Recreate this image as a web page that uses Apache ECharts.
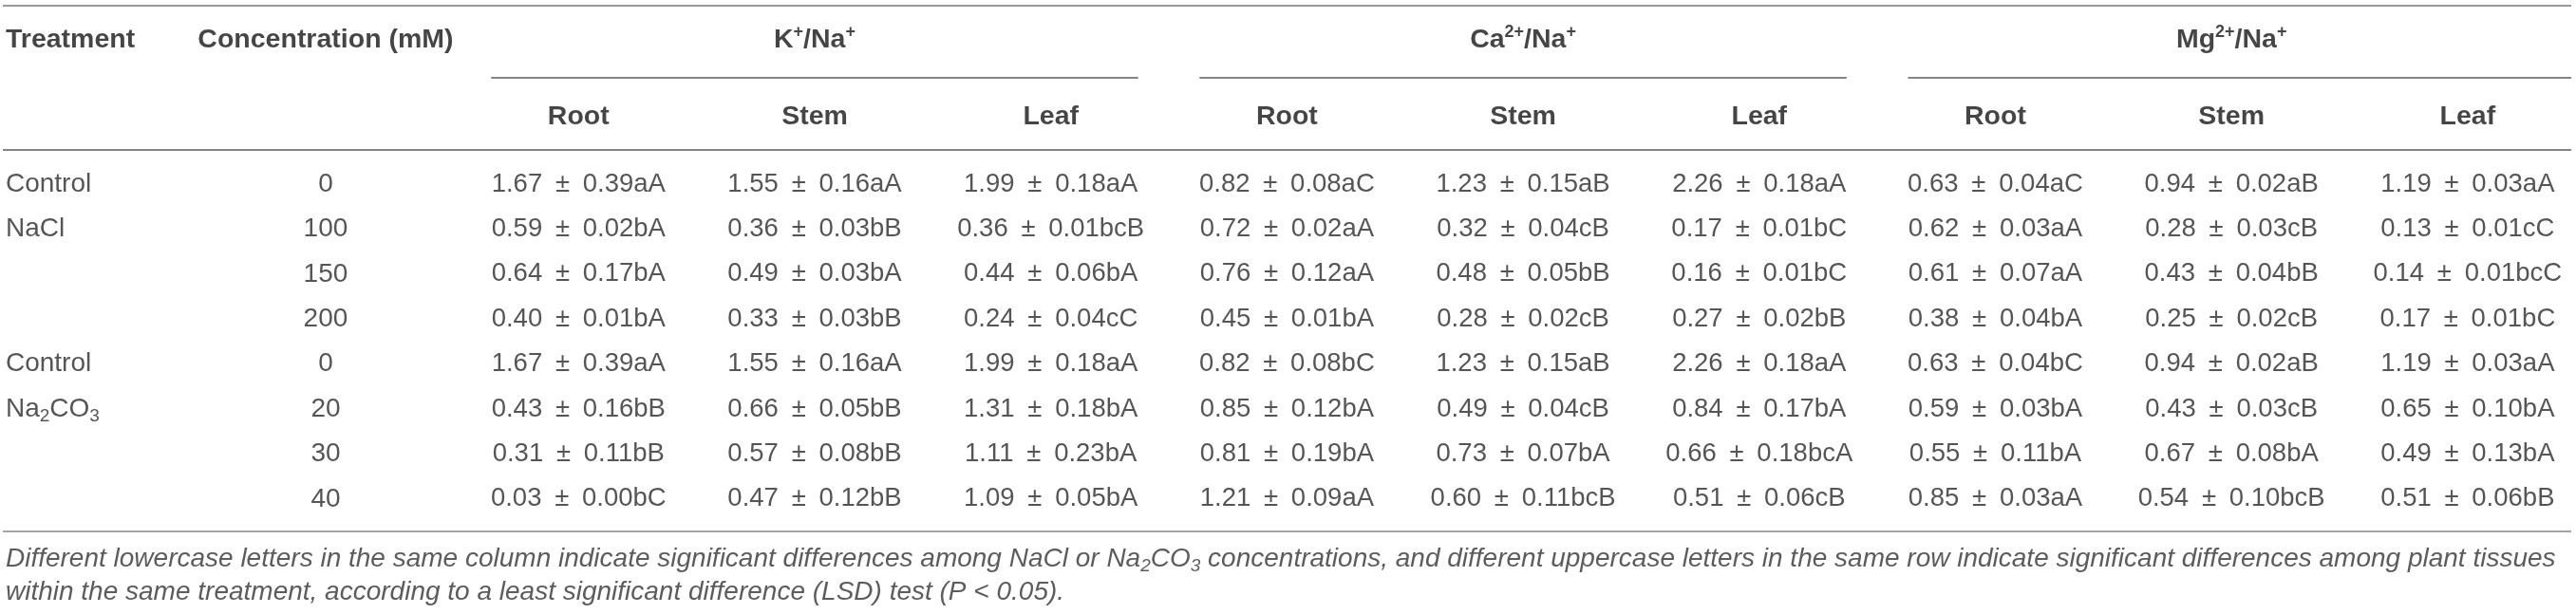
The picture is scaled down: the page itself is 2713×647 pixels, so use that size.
<!DOCTYPE html>
<html>
<head>
<meta charset="utf-8">
<title>Ion ratios table</title>
<style>
  html, body { margin: 0; padding: 0; background: #fff; }
  #chart { width: 2713px; height: 647px; }
</style>
</head>
<body>
<div id="chart"></div>
<script src="https://cdn.jsdelivr.net/npm/echarts@6/dist/echarts.min.js"></script>
<script>
// ---- table content ----
const firstHeaders = ['Treatment', 'Concentration (mM)'];
const ratioHeaders = ['K{sup|+}/Na{sup|+}', 'Ca{sup|2+}/Na{sup|+}', 'Mg{sup|2+}/Na{sup|+}'];
const tissues = ['Root', 'Stem', 'Leaf'];
const treatments = ['Control', 'NaCl', '', '', 'Control', 'Na{sub|2}CO{sub|3}', '', ''];
const concentrations = ['0', '100', '150', '200', '0', '20', '30', '40'];

// mean ± SE with significance letters, one array per column
const kRoot = ['1.67 ± 0.39aA', '0.59 ± 0.02bA', '0.64 ± 0.17bA', '0.40 ± 0.01bA', '1.67 ± 0.39aA', '0.43 ± 0.16bB', '0.31 ± 0.11bB', '0.03 ± 0.00bC'];
const kStem = ['1.55 ± 0.16aA', '0.36 ± 0.03bB', '0.49 ± 0.03bA', '0.33 ± 0.03bB', '1.55 ± 0.16aA', '0.66 ± 0.05bB', '0.57 ± 0.08bB', '0.47 ± 0.12bB'];
const kLeaf = ['1.99 ± 0.18aA', '0.36 ± 0.01bcB', '0.44 ± 0.06bA', '0.24 ± 0.04cC', '1.99 ± 0.18aA', '1.31 ± 0.18bA', '1.11 ± 0.23bA', '1.09 ± 0.05bA'];
const caRoot = ['0.82 ± 0.08aC', '0.72 ± 0.02aA', '0.76 ± 0.12aA', '0.45 ± 0.01bA', '0.82 ± 0.08bC', '0.85 ± 0.12bA', '0.81 ± 0.19bA', '1.21 ± 0.09aA'];
const caStem = ['1.23 ± 0.15aB', '0.32 ± 0.04cB', '0.48 ± 0.05bB', '0.28 ± 0.02cB', '1.23 ± 0.15aB', '0.49 ± 0.04cB', '0.73 ± 0.07bA', '0.60 ± 0.11bcB'];
const caLeaf = ['2.26 ± 0.18aA', '0.17 ± 0.01bC', '0.16 ± 0.01bC', '0.27 ± 0.02bB', '2.26 ± 0.18aA', '0.84 ± 0.17bA', '0.66 ± 0.18bcA', '0.51 ± 0.06cB'];
const mgRoot = ['0.63 ± 0.04aC', '0.62 ± 0.03aA', '0.61 ± 0.07aA', '0.38 ± 0.04bA', '0.63 ± 0.04bC', '0.59 ± 0.03bA', '0.55 ± 0.11bA', '0.85 ± 0.03aA'];
const mgStem = ['0.94 ± 0.02aB', '0.28 ± 0.03cB', '0.43 ± 0.04bB', '0.25 ± 0.02cB', '0.94 ± 0.02aB', '0.43 ± 0.03cB', '0.67 ± 0.08bA', '0.54 ± 0.10bcB'];
const mgLeaf = ['1.19 ± 0.03aA', '0.13 ± 0.01cC', '0.14 ± 0.01bcC', '0.17 ± 0.01bC', '1.19 ± 0.03aA', '0.65 ± 0.10bA', '0.49 ± 0.13bA', '0.51 ± 0.06bB'];

const footnote =
  'Different lowercase letters in the same column indicate significant differences among NaCl or Na{fsub|2}CO{fsub|3} concentrations, ' +
  'and different uppercase letters in the same row indicate significant differences among plant tissues\n' +
  'within the same treatment, according to a least significant difference (LSD) test (P < 0.05).';

// ---- layout, in axis units (x: column pitch, y: data row pitch) ----
const xMin = -0.45, xMax = 10.459;
const yMin = -4.093, yMax = 9.557;
const colTreatment = -0.426;
const colConc = 0.929;
const firstDataCol = 2;
const rowHead1 = -3.207;
const rowHead2 = -1.498;
const rowFoot = 8.7;
const ruleLeft = -0.438, ruleRight = 10.439;
const ruleTop = -3.966, ruleMid = -2.363, ruleHead = -0.759, ruleBottom = 7.722;
const groupHalf = 1.37;

const FONT = 'Liberation Sans';
const BODY_SIZE = 27.5;
const HEAD_SIZE = 28.5;

const columns = [kRoot, kStem, kLeaf, caRoot, caStem, caLeaf, mgRoot, mgStem, mgLeaf];

function cell(x, y, text, style) {
  return { value: [x, y], label: Object.assign({ formatter: text }, style) };
}

// wider gaps around the plus-minus sign, as typeset in the source
function pm(s) {
  return s.replace(' ± ', '\u2002±\u2002');
}

const headStyle = { fontWeight: 'bold', fontSize: HEAD_SIZE, color: '#161616' };
const bodyStyle = { fontWeight: 'normal', fontSize: BODY_SIZE, color: '#2b2b2b' };

const cells = [];
// header row 1
cells.push(cell(colTreatment, rowHead1, firstHeaders[0], Object.assign({ align: 'left' }, headStyle)));
cells.push(cell(colConc, rowHead1, firstHeaders[1], headStyle));
ratioHeaders.forEach((h, g) => {
  cells.push(cell(firstDataCol + g * 3 + 1, rowHead1, h, headStyle));
});
// header row 2
for (let g = 0; g < ratioHeaders.length; g++) {
  tissues.forEach((t, k) => {
    cells.push(cell(firstDataCol + g * 3 + k, rowHead2, t, headStyle));
  });
}
// body
treatments.forEach((t, r) => {
  if (t) cells.push(cell(colTreatment, r, t, Object.assign({ align: 'left' }, bodyStyle, { fontSize: 28 })));
  cells.push(cell(colConc, r, concentrations[r], Object.assign({}, bodyStyle, { fontSize: 28 })));
  columns.forEach((col, c) => {
    cells.push(cell(firstDataCol + c, r, pm(col[r]), bodyStyle));
  });
});
// footnote
cells.push(cell(colTreatment, rowFoot, footnote,
  { align: 'left', fontStyle: 'italic', fontSize: 28, color: '#333', lineHeight: 35 }));

// horizontal rules
const rules = [
  [ruleLeft, ruleRight, ruleTop, '#9a9a9a'],
  [ruleLeft, ruleRight, ruleHead, '#858585'],
  [ruleLeft, ruleRight, ruleBottom, '#a5a5a5']
];
ratioHeaders.forEach((h, g) => {
  const mid = firstDataCol + g * 3 + 1;
  const right = g === ratioHeaders.length - 1 ? ruleRight : mid + groupHalf;
  rules.push([mid - groupHalf, right, ruleMid, '#858585']);
});

const myChart = echarts.init(document.getElementById('chart'));

const option = {
  animation: false,
  backgroundColor: '#fff',
  grid: { left: 0, right: 0, top: 0, bottom: 0, containLabel: false },
  xAxis: { type: 'value', min: xMin, max: xMax, show: false },
  yAxis: { type: 'value', min: yMin, max: yMax, inverse: true, show: false },
  series: [
    {
      type: 'lines',
      coordinateSystem: 'cartesian2d',
      silent: true,
      lineStyle: { width: 2, opacity: 1 },
      data: rules.map(r => ({
        coords: [[r[0], r[2]], [r[1], r[2]]],
        lineStyle: { color: r[3] }
      }))
    },
    {
      type: 'scatter',
      silent: true,
      symbolSize: 1,
      itemStyle: { color: 'rgba(0,0,0,0)' },
      label: {
        show: true,
        position: 'inside',
        fontFamily: FONT,
        fontSize: BODY_SIZE,
        lineHeight: 34,
        verticalAlign: 'middle',
        rich: {
          sup: { fontFamily: FONT, fontSize: 18, fontWeight: 'bold', lineHeight: 18, verticalAlign: 'top', color: '#161616' },
          sub: { fontFamily: FONT, fontSize: 19, lineHeight: 19, verticalAlign: 'bottom', color: '#2b2b2b' },
          fsub: { fontFamily: FONT, fontSize: 19, fontStyle: 'italic', lineHeight: 19, verticalAlign: 'bottom', color: '#333' }
        }
      },
      data: cells
    }
  ]
};

option && myChart.setOption(option);
window.addEventListener('resize', function () {
  myChart.resize();
});
</script>
</body>
</html>
